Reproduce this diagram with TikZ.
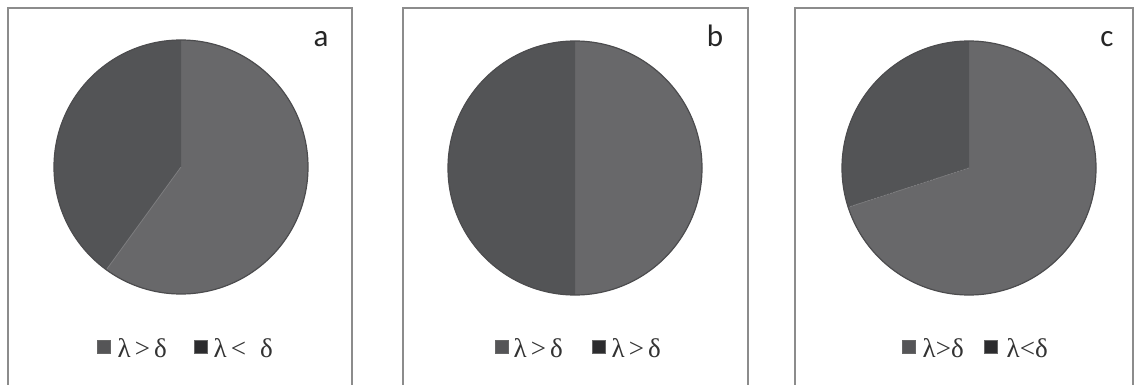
\documentclass[tikz,border=0pt]{standalone}
\usepackage{fontspec}
\setmainfont{Carlito}
\newfontfamily\grk{Liberation Serif}
\definecolor{lightslice}{HTML}{68686A}
\definecolor{darkslice}{HTML}{535456}
\definecolor{rimcol}{HTML}{4C4C4E}
\definecolor{framecol}{HTML}{8C8C8C}
\definecolor{sqone}{HTML}{555557}
\definecolor{sqtwo}{HTML}{2C2C2E}
\definecolor{sepcol}{HTML}{7C7C7E}
\tikzset{
  framebox/.style={draw=framecol,line width=1.1pt},
  panellabel/.style={font=\fontsize{31}{33}\selectfont,anchor=base,inner sep=0pt,text=black!85},
  legtext/.style={font=\grk\fontsize{27}{29}\selectfont,anchor=base west,inner sep=0pt,text=black!80},
  legsq/.style={minimum size=13pt,inner sep=0pt,draw=black!60,line width=0.4pt},
  rim/.style={draw=rimcol,line width=1.2pt},
}
\newcommand{\gsp}{\hspace{4pt}}
\begin{document}
\begin{tikzpicture}[x=1pt,y=-1pt]
\useasboundingbox (0,0) rectangle (1137,385);
\fill[white] (0,0) rectangle (1137,385);
% frames (bottom edge cut off)
\draw[framebox] (8,390) -- (8,8) -- (352,8) -- (352,390);
\draw[framebox] (403,390) -- (403,8) -- (748,8) -- (748,390);
\draw[framebox] (795,390) -- (795,8) -- (1133,8) -- (1133,390);
% pie a : 60% / 40%   (angles in the y-down frame: -90 = top)
\coordinate (ca) at (181,167);
\fill[lightslice] (ca) -- ++(-90:127) arc[start angle=-90,end angle=126,radius=127] -- cycle;
\fill[darkslice] (ca) -- ++(-90:127) arc[start angle=-90,end angle=-234,radius=127] -- cycle;
\draw[sepcol,line width=0.8pt] (ca) -- ++(126:127);
\draw[rim] (ca) circle[radius=127];
% pie b : 50% / 50%
\coordinate (cb) at (575,168);
\fill[lightslice] (cb) -- ++(-90:127) arc[start angle=-90,end angle=90,radius=127] -- cycle;
\fill[darkslice] (cb) -- ++(-90:127) arc[start angle=-90,end angle=-270,radius=127] -- cycle;
\draw[rim] (cb) circle[radius=127];
% pie c : 70% / 30%
\coordinate (cc) at (969,168);
\fill[lightslice] (cc) -- ++(-90:127) arc[start angle=-90,end angle=162,radius=127] -- cycle;
\fill[darkslice] (cc) -- ++(-90:127) arc[start angle=-90,end angle=-198,radius=127] -- cycle;
\draw[sepcol,line width=0.8pt,dash pattern=on 2pt off 1.5pt] (cc) -- ++(162:127);
\draw[rim] (cc) circle[radius=127];
% panel labels
\node[panellabel] (la) at (321,47) {a};
\node[panellabel] (lb) at (715,47) {b};
\node[panellabel] (lc) at (1107,47) {c};
% legends
\node[legsq,fill=sqone] (a1) at (104,346.5) {};
\node[legtext] (ta1) at (117.5,357) {λ\gsp>\gsp δ};
\node[legsq,fill=sqtwo] (a2) at (200.5,346.5) {};
\node[legtext] (ta2) at (213.5,357) {λ\gsp<\hspace{14pt}δ};
\node[legsq,fill=sqone] (b1) at (501.5,346.5) {};
\node[legtext] (tb1) at (513.5,357) {λ\gsp>\gsp δ};
\node[legsq,fill=sqtwo] (b2) at (598.5,346.5) {};
\node[legtext] (tb2) at (611.5,357) {λ\gsp>\gsp δ};
\node[legsq,fill=sqone] (c1) at (908.5,346.5) {};
\node[legtext] (tc1) at (922.5,357) {λ>δ};
\node[legsq,fill=sqtwo] (c2) at (990.5,346.5) {};
\node[legtext] (tc2) at (1006.5,357) {λ<δ};
\end{tikzpicture}
\end{document}
